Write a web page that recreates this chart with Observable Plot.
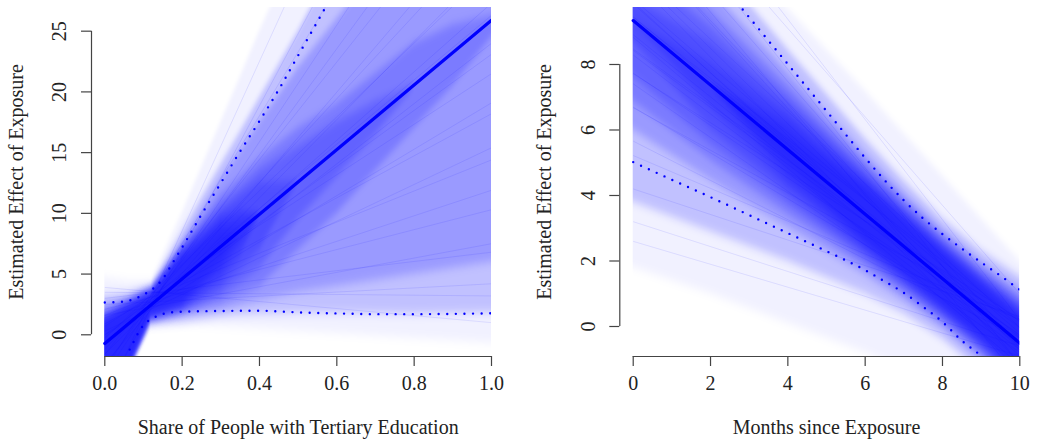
<!DOCTYPE html>
<html><head><meta charset="utf-8">
<script src="https://cdn.jsdelivr.net/npm/d3@7"></script>
<script src="https://cdn.jsdelivr.net/npm/@observablehq/plot@0.6"></script>
<style>
html,body{margin:0;padding:0;background:#fff;}
#wrap{position:relative;width:1037px;height:447px;overflow:hidden;background:#fff;}
#p1{position:absolute;left:0;top:0;}
#p2{position:absolute;left:520px;top:0;}
</style></head><body>
<div id="wrap"><div id="p1"></div><div id="p2"></div></div>
<script>
// ---------- Panel 1: Share of People with Tertiary Education ----------
const p1XTicks = [0, 0.2, 0.4, 0.6, 0.8, 1.0];
const p1YTicks = [0, 5, 10, 15, 20, 25];
const p1MainX = [0, 1];
const p1MainY = [-0.72, 25.9];
const p1CiUpX = [0, 0.05, 0.1, 0.125, 0.15, 0.175, 0.2, 0.25, 0.3, 0.35, 0.4, 0.45, 0.5, 0.55, 0.6];
const p1CiUp  = [2.66, 2.74, 3.3, 3.8, 4.6, 5.9, 7.2, 9.9, 12.5, 15.1, 17.6, 20.2, 23.0, 25.8, 28.6];
const p1CiLoX = [0.045, 0.06, 0.075, 0.09, 0.105, 0.12, 0.14, 0.17, 0.2, 0.3, 0.4, 0.5, 0.6, 0.7, 0.8, 0.9, 1.0];
const p1CiLo  = [-2.5, -1.5, -0.55, 0.35, 0.95, 1.3, 1.6, 1.84, 1.9, 1.96, 1.98, 1.85, 1.76, 1.7, 1.7, 1.72, 1.77];
// density bands of the simulated lines (read from the colour intensity), at p1X
const p1X = [0, 0.06, 0.12, 0.2, 0.3, 0.35, 0.4, 0.5, 0.6, 0.7, 0.8, 0.9, 1.0];
const p1EnvLo = [-6, -2.8, 0.7, 0.9, 0.7, 0.6, 0.5, 0.3, 0.1, -0.1, -0.3, -0.5, -0.7];
const p1EnvHi = [4.7, 4.4, 4.4, 10, 17.5, 21.2, 25, 32, 38, 46, 54, 62, 70];
const p1BandLo = [
  [-6, -3, 0.8, 1.0, 1.5, 1.6, 1.7, 1.8, 1.8, 1.75, 1.7, 1.75, 1.8],
  [-6, -3, 1.1, 1.6, 2.0, 2.4, 2.8, 3.5, 4, 4.5, 5, 5.5, 6],
  [-6, -3, 1.2, 1.8, 2.6, 3.3, 4, 7, 10, 13.5, 17, 20.5, 24.5],
  [-6, -3, 1.3, 1.9, 3.2, 4.3, 5.5, 9.5, 13, 16.5, 20.4, null, null],
  [-6, -3, 1.35, 2.0, 3.8, 5.4, 7, 12.6, null, null, null, null, null],
  [-6, -3, 1.4, 2.2, 4.5, 6.5, 9.9, null, null, null, null, null, null],
  [-6, -3, 1.45, 2.4, 5.2, 7.6, 9.94, null, null, null, null, null, null],
  [-6, -3, 1.5, 2.6, 6.0, 8.6, null, null, null, null, null, null, null]
];
const p1BandHi = [
  [3.2, 3.4, 4.0, 8.5, 14, 16.7, 19.5, 25, 31, 36, 41, 46.5, 52],
  [2.5, 3.0, 3.8, 7.6, 12.8, 15.1, 17.5, 22, 26, 30, 34, 38, 42],
  [2.0, 2.8, 3.7, 7.3, 11.5, 13, 14.5, 17, 19, 21.5, 24, 25.5, 26.3],
  [1.7, 2.7, 3.65, 7.2, 10.8, 12.1, 13.5, 15.5, 17.5, 19.2, 20.6, null, null],
  [1.5, 2.6, 3.6, 7.0, 10.2, 11.4, 12.5, 12.6, null, null, null, null, null],
  [1.4, 2.5, 3.55, 6.8, 9.8, 10.3, 9.9, null, null, null, null, null, null],
  [1.3, 2.45, 3.5, 6.6, 9.3, 9.6, 9.94, null, null, null, null, null, null],
  [1.2, 2.4, 3.45, 6.4, 8.6, 8.6, null, null, null, null, null, null, null]
];
// a sample of individual simulated lines (value at x=0, value at x=1)
const p1FanLeft  = [-5.4, -4.9, -3.0, -3.3, -2.6, -1.6, -2.4, -1.2, -1.6, -0.3, -0.9, -0.2, -0.8, 0.0, 0.7, 0.0, 0.9, 0.3, 1.6, 1.4, 2.1, 1.6, 3.0, 2.5, 3.5, 3.9];
const p1FanRight = [64.4, 54.5, 49.6, 44.7, 41, 38.5, 34.9, 33.2, 30.6, 30.1, 27.3, 26.3, 24.0, 23.1, 21.5, 19.1, 18.2, 15.4, 14.4, 11.9, 10.3, 7.5, 6.8, 4.2, 3.2, 1.0];

// ---------- Panel 2: Months since Exposure ----------
const p2XTicks = [0, 2, 4, 6, 8, 10];
const p2YTicks = [0, 2, 4, 6, 8];
const p2MainX = [0, 10];
const p2MainY = [9.34, -0.51];
const p2CiX  = [0, 1, 2, 3, 4, 5, 6, 6.5, 7, 7.5, 8, 8.5, 9, 9.5, 10];
const p2CiUp = [13.73, 12.3, 10.87, 9.44, 8.01, 6.58, 5.15, 4.47, 3.85, 3.3, 2.82, 2.38, 1.96, 1.55, 1.12];
const p2CiLo = [5.02, 4.48, 3.95, 3.4, 2.85, 2.3, 1.72, 1.38, 1.03, 0.6, 0.14, -0.43, -0.9, -1.5, -2.1];
const p2X = [0, 2, 4, 6, 7, 8, 9, 10];
const p2EnvLo = [1.8, 1.0, 0.1, -0.8, -1.3, -1.8, -2.3, -2.8];
const p2EnvHi = [14.7, 12.2, 9.7, 7.2, 5.9, 4.6, 3.3, 2.0];
const p2BandLo = [
  [3.8, 2.9, 2.0, 1.0, 0.4, -0.38, -1.375, -2.55],
  [6.0, 4.47, 3.02, 1.58, 0.805, -0.05, -1.045, -2.17],
  [6.88, 5.09, 3.43, 1.84, 1.015, 0.13, -0.855, -1.96],
  [7.66, 5.59, 3.74, 2.03, 1.165, 0.26, -0.725, -1.8],
  [8.7, 6.07, 4.01, 2.185, 1.295, 0.37, -0.615, -1.67],
  [9.34, 6.71, 4.29, 2.34, 1.415, 0.47, -0.515, -1.55],
  [null, 7.37, 4.58, 2.47, 1.515, 0.56, -0.425, -1.44],
  [null, 7.37, 4.96, 2.61, 1.615, 0.64, -0.345, -1.34]
];
const p2BandHi = [
  [14.0, 11.25, 8.46, 5.73, 4.455, 3.3, 2.325, 1.53],
  [12.68, 10.27, 7.78, 5.28, 4.085, 2.97, 1.995, 1.15],
  [11.8, 9.65, 7.37, 5.02, 3.875, 2.79, 1.805, 0.94],
  [11.02, 9.15, 7.06, 4.83, 3.725, 2.66, 1.675, 0.78],
  [9.98, 8.67, 6.79, 4.675, 3.595, 2.55, 1.565, 0.65],
  [9.34, 8.03, 6.51, 4.52, 3.475, 2.45, 1.465, 0.53],
  [null, 7.37, 6.22, 4.39, 3.375, 2.36, 1.375, 0.42],
  [null, 7.37, 5.84, 4.25, 3.275, 2.28, 1.295, 0.32]
];
const p2FanLeft  = [13.85, 12.4, 12.88, 11.86, 11.84, 10.62, 10.79, 10.97, 9.9, 9.85, 10.0, 8.83, 9.46, 8.91, 9.44, 8.29, 8.43, 8.47, 7.41, 7.74, 7.72, 6.7, 6.68, 5.66, 5.22, 4.2, 3.2, 2.6, 15.5, 14.5];
const p2FanRight = [-1.16, -1.6, -0.62, -1.14, -0.66, -1.38, -0.71, -0.03, -0.9, -0.65, -0.2, -1.17, -0.34, -0.59, 0.14, -0.71, -0.27, -0.03, -0.79, -0.26, 0.22, -0.3, 0.18, -0.34, 0.21, 0.3, -0.6, -0.9, 0.2, 1.0];

const BLUE = "#0000ff";
const INK = "#222";
const AXIS = "#444";
const FONT = "'Liberation Serif', 'Times New Roman', serif";

function rows(xs, lo, hi) {
  return xs.map((x, i) => ({x, lo: lo[i], hi: hi[i]})).filter(d => d.lo != null && d.hi != null);
}
function pts(xs, ys) { return xs.map((x, i) => ({x, y: ys[i]})); }

function panel(o) {
  const marks = [];
  marks.push(Plot.areaY(rows(o.xs, o.envLo, o.envHi), {x: "x", y1: "lo", y2: "hi", fill: BLUE, fillOpacity: 0.055, clip: true}));
  o.bandLo.forEach((lo, j) => {
    marks.push(Plot.areaY(rows(o.xs, lo, o.bandHi[j]), {x: "x", y1: "lo", y2: "hi", fill: BLUE, fillOpacity: 0.2, clip: true}));
  });
  const fan = o.fanLeft.map((a, i) => ({a, c: o.fanRight[i]}));
  marks.push(Plot.link(fan, {x1: () => o.mainX[0], x2: () => o.mainX[1], y1: "a", y2: "c", stroke: BLUE, strokeOpacity: 0.09, strokeWidth: 1, clip: true}));
  marks.push(Plot.line(pts(o.ciUpX, o.ciUp), {x: "x", y: "y", stroke: BLUE, strokeWidth: 2.4, strokeDasharray: "0,8.6", strokeLinecap: "round", curve: "monotone-x", clip: true}));
  marks.push(Plot.line(pts(o.ciLoX, o.ciLo), {x: "x", y: "y", stroke: BLUE, strokeWidth: 2.4, strokeDasharray: "0,8.6", strokeLinecap: "round", curve: "monotone-x", clip: true}));
  marks.push(Plot.line(pts(o.mainX, o.mainY), {x: "x", y: "y", stroke: BLUE, strokeWidth: 3.2, clip: true}));
  // axes (R style)
  marks.push(Plot.ruleY([o.yDomain[0]], {x1: o.xTicks[0], x2: o.xTicks[o.xTicks.length - 1], stroke: AXIS, strokeWidth: 1.2}));
  marks.push(Plot.ruleX([o.xDomain[0]], {y1: o.yTicks[0], y2: o.yTicks[o.yTicks.length - 1], stroke: AXIS, strokeWidth: 1.2}));
  marks.push(Plot.axisX(o.xTicks, {anchor: "bottom", tickSize: 10, tickFormat: () => "", stroke: AXIS, strokeWidth: 1.2, label: null}));
  marks.push(Plot.axisY(o.yTicks, {anchor: "left", tickSize: 10, tickFormat: () => "", stroke: AXIS, strokeWidth: 1.2, label: null}));
  marks.push(Plot.text(o.xTicks, {x: d => d, text: o.xFmt, frameAnchor: "bottom", dy: 33, fontSize: 20, fill: INK, textAnchor: "middle"}));
  marks.push(Plot.text(o.yTicks, {y: d => d, text: d => String(d), frameAnchor: "left", rotate: -90, dx: -31.7, fontSize: 20, fill: INK, textAnchor: "middle"}));
  marks.push(Plot.text([o.xTitle], {text: d => d, frameAnchor: "bottom", dy: 77, dx: 6.7, fontSize: 20, fill: INK, textAnchor: "middle"}));
  marks.push(Plot.text([o.yTitle], {text: d => d, frameAnchor: "left", rotate: -90, dx: -75, fontSize: 20, fill: INK, textAnchor: "middle"}));
  const svg = Plot.plot({
    width: o.width, height: 447,
    marginTop: 7, marginBottom: 91, marginLeft: o.marginLeft, marginRight: o.marginRight,
    x: {domain: o.xDomain, axis: null},
    y: {domain: o.yDomain, axis: null},
    style: {fontFamily: FONT, background: "white", overflow: "visible"},
    marks
  });
  // soften the density-band edges (mostly vertical blur so the x=0 edge stays crisp)
  const ns = "http://www.w3.org/2000/svg";
  const defs = document.createElementNS(ns, "defs");
  const filter = document.createElementNS(ns, "filter");
  filter.setAttribute("id", o.id + "-soft");
  filter.setAttribute("x", "-3%"); filter.setAttribute("y", "-15%");
  filter.setAttribute("width", "106%"); filter.setAttribute("height", "130%");
  const blur = document.createElementNS(ns, "feGaussianBlur");
  blur.setAttribute("stdDeviation", "0.6 5");
  filter.appendChild(blur); defs.appendChild(filter);
  svg.insertBefore(defs, svg.firstChild);
  svg.querySelectorAll('g[aria-label="area"]').forEach(g => g.setAttribute("filter", `url(#${o.id}-soft)`));
  return svg;
}

document.getElementById("p1").appendChild(panel({
  id: "pa", width: 520, marginLeft: 91, marginRight: 29,
  xDomain: [-0.0344, 1], yDomain: [-1.787, 26.95],
  xs: p1X, envLo: p1EnvLo, envHi: p1EnvHi, bandLo: p1BandLo, bandHi: p1BandHi,
  fanLeft: p1FanLeft, fanRight: p1FanRight,
  ciUpX: p1CiUpX, ciUp: p1CiUp, ciLoX: p1CiLoX, ciLo: p1CiLo,
  mainX: p1MainX, mainY: p1MainY,
  xTicks: p1XTicks, yTicks: p1YTicks, xFmt: d => d.toFixed(1),
  xTitle: "Share of People with Tertiary Education", yTitle: "Estimated Effect of Exposure"
}));
document.getElementById("p2").appendChild(panel({
  id: "pb", width: 517, marginLeft: 99.3, marginRight: 17.7,
  xDomain: [-0.347, 10], yDomain: [-0.916, 9.74],
  xs: p2X, envLo: p2EnvLo, envHi: p2EnvHi, bandLo: p2BandLo, bandHi: p2BandHi,
  fanLeft: p2FanLeft, fanRight: p2FanRight,
  ciUpX: p2CiX, ciUp: p2CiUp, ciLoX: p2CiX, ciLo: p2CiLo,
  mainX: p2MainX, mainY: p2MainY,
  xTicks: p2XTicks, yTicks: p2YTicks, xFmt: d => String(d),
  xTitle: "Months since Exposure", yTitle: "Estimated Effect of Exposure"
}));
</script>
</body></html>
